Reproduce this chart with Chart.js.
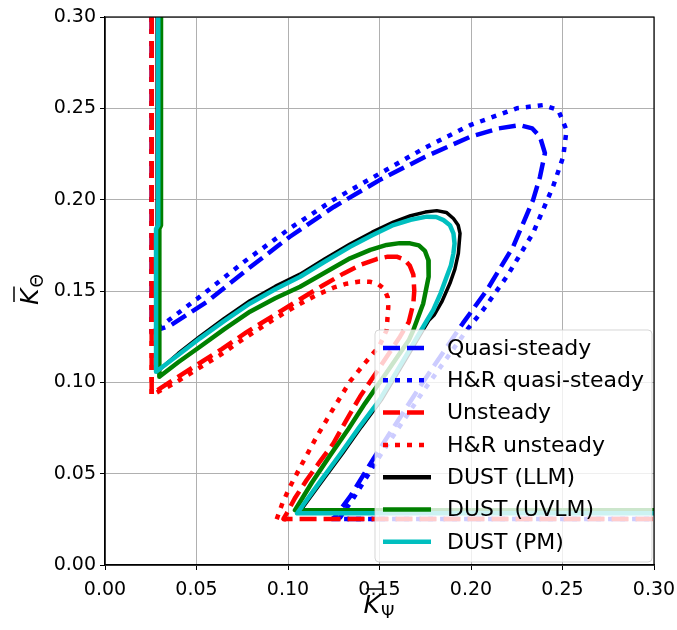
<!DOCTYPE html>
<html>
<head>
<meta charset="utf-8">
<script src="https://cdn.jsdelivr.net/npm/chart.js@4.4.1/dist/chart.umd.min.js"></script>
<style>
  html, body { margin: 0; padding: 0; background: #fff; }
</style>
</head>
<body>
<canvas id="flutter" width="677" height="630"></canvas>
<script>
// ---------------------------------------------------------
// Data (K_psi on x, K_theta on y)
// ---------------------------------------------------------
const tickVals = [0, 0.05, 0.10, 0.15, 0.20, 0.25, 0.30];

// Quasi-steady
const qsX = [0.0255, 0.0255, 0.0355, 0.0556, 0.0780, 0.101, 0.125, 0.150, 0.175, 0.1995, 0.2150, 0.2268, 0.2335, 0.2377, 0.2404, 0.2377, 0.2339, 0.2230, 0.2087, 0.1956, 0.1721, 0.1485, 0.1339, 0.1257, 0.1240, 0.30];
const qsY = [0.30, 0.1277, 0.1310, 0.1440, 0.1620, 0.1797, 0.1960, 0.2107, 0.2235, 0.2344, 0.2390, 0.2408, 0.2390, 0.2344, 0.2255, 0.2125, 0.1998, 0.1742, 0.1505, 0.1324, 0.0976, 0.0611, 0.0374, 0.0264, 0.0252, 0.0252];

// H&R quasi-steady
const hqsX = [0.0255, 0.0255, 0.0519, 0.0760, 0.1011, 0.1250, 0.1503, 0.1750, 0.1995, 0.2250, 0.2395, 0.2477, 0.2522, 0.2504, 0.2448, 0.2339, 0.2195, 0.2066, 0.1980, 0.1745, 0.1510, 0.1360, 0.1285, 0.1275, 0.30];
const hqsY = [0.30, 0.1270, 0.1469, 0.1660, 0.1843, 0.2000, 0.2144, 0.2285, 0.2408, 0.2500, 0.2518, 0.2490, 0.2381, 0.2235, 0.2071, 0.1817, 0.1578, 0.1396, 0.1290, 0.0960, 0.0610, 0.0370, 0.0260, 0.0252, 0.0252];

// Unsteady
const unX = [0.0255, 0.0255, 0.0380, 0.0501, 0.0640, 0.0774, 0.0920, 0.1066, 0.1190, 0.1302, 0.1400, 0.1485, 0.1545, 0.1594, 0.1635, 0.1665, 0.1685, 0.1690, 0.1685, 0.1660, 0.1612, 0.1500, 0.1393, 0.1320, 0.1248, 0.1170, 0.1102, 0.1040, 0.0993, 0.0975, 0.30];
const unY = [0.30, 0.0936, 0.1018, 0.1095, 0.1183, 0.1275, 0.1365, 0.1455, 0.1530, 0.1595, 0.1645, 0.1675, 0.1688, 0.1688, 0.1672, 0.1640, 0.1590, 0.1500, 0.1432, 0.1330, 0.1250, 0.1080, 0.0921, 0.0795, 0.0666, 0.0560, 0.0465, 0.0370, 0.0283, 0.0252, 0.0252];

// H&R unsteady
const hunX = [0.0255, 0.0255, 0.0380, 0.0500, 0.0630, 0.0760, 0.0884, 0.0980, 0.1066, 0.1160, 0.1248, 0.1320, 0.1393, 0.1450, 0.1490, 0.1525, 0.1545, 0.1548, 0.1539, 0.1500, 0.1420, 0.1339, 0.1250, 0.1157, 0.1080, 0.1011, 0.0970, 0.0938, 0.0990];
const hunY = [0.30, 0.0930, 0.0995, 0.1070, 0.1150, 0.1240, 0.1320, 0.1380, 0.1430, 0.1480, 0.1518, 0.1540, 0.1552, 0.1550, 0.1540, 0.1512, 0.1465, 0.1414, 0.1286, 0.1200, 0.1105, 0.1005, 0.0860, 0.0703, 0.0560, 0.0429, 0.0340, 0.0250, 0.0250];

// DUST (LLM)
const llmX = [0.0285, 0.0285, 0.0400, 0.0519, 0.0650, 0.0792, 0.0930, 0.1066, 0.1200, 0.1339, 0.1460, 0.1576, 0.1670, 0.1750, 0.1813, 0.1865, 0.1904, 0.1930, 0.1940, 0.1931, 0.1912, 0.1885, 0.1840, 0.1800, 0.1770, 0.1640, 0.1510, 0.1400, 0.1300, 0.1180, 0.1058, 0.30];
const llmY = [0.30, 0.1058, 0.1158, 0.1252, 0.1348, 0.1447, 0.1525, 0.1592, 0.1675, 0.1757, 0.1822, 0.1877, 0.1912, 0.1932, 0.1940, 0.1930, 0.1897, 0.1860, 0.1816, 0.1706, 0.1620, 0.1542, 0.1440, 0.1370, 0.1340, 0.1120, 0.0903, 0.0755, 0.0613, 0.0450, 0.0283, 0.0283];

// DUST (UVLM)
const uvlmX = [0.0306, 0.0306, 0.0297, 0.0297, 0.0400, 0.0519, 0.0650, 0.0792, 0.0930, 0.1066, 0.1200, 0.1339, 0.1450, 0.1539, 0.1610, 0.1667, 0.1715, 0.1748, 0.1767, 0.1770, 0.1767, 0.1739, 0.1685, 0.1660, 0.1540, 0.1421, 0.1330, 0.1230, 0.1130, 0.1038, 0.30];
const uvlmY = [0.30, 0.186, 0.184, 0.1031, 0.1110, 0.1195, 0.1290, 0.1387, 0.1460, 0.1523, 0.1600, 0.1679, 0.1725, 0.1752, 0.1762, 0.1761, 0.1750, 0.1720, 0.1669, 0.1620, 0.1578, 0.1432, 0.1286, 0.1230, 0.1055, 0.0885, 0.0745, 0.0600, 0.0450, 0.0300, 0.0300];

// DUST (PM)
const pmX = [0.0291, 0.0291, 0.0279, 0.0279, 0.0400, 0.0519, 0.0650, 0.0792, 0.0930, 0.1066, 0.1200, 0.1339, 0.1460, 0.1576, 0.1670, 0.1758, 0.1810, 0.1850, 0.1885, 0.1904, 0.1910, 0.1904, 0.1890, 0.1867, 0.1835, 0.1794, 0.1760, 0.1630, 0.1500, 0.1390, 0.1290, 0.1170, 0.1050, 0.30];
const pmY = [0.30, 0.186, 0.184, 0.1058, 0.1150, 0.1241, 0.1335, 0.1432, 0.1510, 0.1578, 0.1660, 0.1742, 0.1805, 0.1861, 0.1890, 0.1907, 0.1905, 0.1888, 0.1860, 0.1816, 0.1760, 0.1706, 0.1640, 0.1578, 0.1490, 0.1396, 0.1340, 0.1120, 0.0903, 0.0755, 0.0613, 0.0450, 0.0283, 0.0283];

function pts(xs, ys) {
    return xs.map((x, i) => ({ x: x, y: ys[i] }));
}

const DASH = [17, 7];
const DOT = [5, 7];

// matplotlib draws later lines on top, Chart.js draws lower "order" on top
function series(label, xs, ys, color, width, dash, order) {
    return {
        label: label,
        data: pts(xs, ys),
        showLine: true,
        borderColor: color,
        backgroundColor: color,
        borderWidth: width,
        borderDash: dash,
        borderJoinStyle: 'round',
        pointRadius: 0,
        tension: 0,
        order: order
    };
}

// ---------------------------------------------------------
// Legend box drawn inside the plot, semi-transparent like matplotlib
// ---------------------------------------------------------
const legendBox = {
    id: 'legendBox',
    afterDatasetsDraw(chart) {
        const ctx = chart.ctx;
        const area = chart.chartArea;
        const w = 277, h = 232;
        const x0 = area.right - 2 - w;
        const y0 = area.bottom - 3 - h;

        ctx.save();
        ctx.beginPath();
        ctx.roundRect(x0, y0, w, h, 4);
        ctx.fillStyle = 'rgba(255,255,255,0.8)';
        ctx.fill();
        ctx.strokeStyle = 'rgba(204,204,204,0.8)';
        ctx.lineWidth = 1;
        ctx.stroke();

        ctx.font = '22px "DejaVu Sans"';
        ctx.textBaseline = 'middle';
        ctx.fillStyle = '#000';
        chart.data.datasets.forEach((ds, i) => {
            const cy = y0 + 18 + i * 32.3;
            ctx.beginPath();
            ctx.setLineDash(ds.borderDash);
            ctx.strokeStyle = ds.borderColor;
            ctx.lineWidth = ds.borderWidth < 4 ? 4.5 : ds.borderWidth;
            ctx.moveTo(x0 + 8, cy);
            ctx.lineTo(x0 + 56, cy);
            ctx.stroke();
            ctx.setLineDash([]);
            ctx.fillText(ds.label, x0 + 72, cy + 1);
        });
        ctx.restore();
    }
};

// ---------------------------------------------------------
// Frame on all four sides + math-style axis titles
// ---------------------------------------------------------
function drawKLabel(ctx, sub) {
    ctx.font = 'italic 25px "DejaVu Sans"';
    const kw = ctx.measureText('K').width;
    ctx.fillText('K', 0, 0);
    ctx.beginPath();
    ctx.lineWidth = 1.5;
    ctx.moveTo(3, -24);
    ctx.lineTo(kw + 2, -24);
    ctx.stroke();
    ctx.font = '17px "DejaVu Sans"';
    ctx.fillText(sub, kw + 1, 5);
}

const frameAndTitles = {
    id: 'frameAndTitles',
    afterDraw(chart) {
        const ctx = chart.ctx;
        const a = chart.chartArea;
        ctx.save();
        ctx.strokeStyle = '#000';
        ctx.lineWidth = 1.2;
        ctx.strokeRect(a.left, a.top, a.right - a.left, a.bottom - a.top);

        ctx.fillStyle = '#000';
        ctx.textBaseline = 'alphabetic';
        ctx.textAlign = 'left';

        // x title
        ctx.save();
        ctx.translate((a.left + a.right) / 2 - 16, 613);
        drawKLabel(ctx, '\u03A8');
        ctx.restore();

        // y title
        ctx.save();
        ctx.translate(38, (a.top + a.bottom) / 2 + 14);
        ctx.rotate(-Math.PI / 2);
        drawKLabel(ctx, '\u0398');
        ctx.restore();

        ctx.restore();
    }
};

const axisCommon = {
    type: 'linear',
    min: 0,
    max: 0.30,
    afterBuildTicks: scale => {
        scale.ticks = tickVals.map(v => ({ value: v }));
    },
    ticks: {
        color: '#000',
        font: { family: 'DejaVu Sans', size: 19 },
        padding: 4,
        callback: v => v.toFixed(2)
    },
    grid: {
        color: '#b0b0b0',
        lineWidth: 1,
        tickColor: '#000',
        tickLength: 5
    },
    border: { display: true, color: '#000', width: 1.2 }
};

new Chart(document.getElementById('flutter'), {
    type: 'scatter',
    data: {
        datasets: [
            series('Quasi-steady', qsX, qsY, '#0000ff', 4.5, DASH, 7),
            series('H&R quasi-steady', hqsX, hqsY, '#0000ff', 4.5, DOT, 6),
            series('Unsteady', unX, unY, '#ff0000', 4.5, DASH, 5),
            series('H&R unsteady', hunX, hunY, '#ff0000', 4.5, DOT, 4),
            series('DUST (LLM)', llmX, llmY, '#000000', 3.5, [], 3),
            series('DUST (UVLM)', uvlmX, uvlmY, '#008000', 4.5, [], 2),
            series('DUST (PM)', pmX, pmY, '#00bfbf', 4.5, [], 1)
        ]
    },
    options: {
        responsive: false,
        animation: false,
        devicePixelRatio: 1,
        layout: { padding: { top: 17, right: 23, left: 0, bottom: 0 } },
        plugins: {
            legend: { display: false },
            tooltip: { enabled: false }
        },
        scales: {
            x: Object.assign({}, axisCommon, {
                position: 'bottom',
                ticks: Object.assign({}, axisCommon.ticks, { padding: 9 }),
                afterFit: scale => {
                    scale.height = 65;
                    scale.paddingLeft = 0;
                    scale.paddingRight = 0;
                }
            }),
            y: Object.assign({}, axisCommon, {
                position: 'left',
                afterFit: scale => {
                    scale.width = 105;
                    scale.paddingTop = 0;
                    scale.paddingBottom = 0;
                }
            })
        }
    },
    plugins: [legendBox, frameAndTitles]
});
</script>
</body>
</html>
